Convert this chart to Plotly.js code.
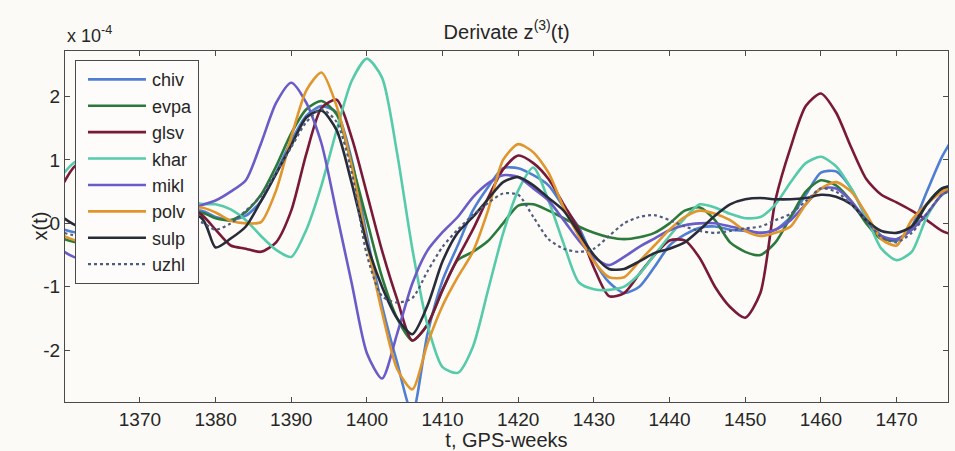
<!DOCTYPE html>
<html>
<head>
<meta charset="utf-8">
<script src="https://cdn.plot.ly/plotly-3.0.1.min.js"></script>
<style>
  html, body { margin: 0; padding: 0; background: #fcfaf6; }
  #chart { width: 955px; height: 451px; }
</style>
</head>
<body>
<div id="chart"></div>
<script>
// GPS weeks (2-week sampling); values in units of 1e-4
const weeks = [1360,1362,1364,1366,1368,1370,1372,1374,1376,1378,1380,1382,1384,1386,1388,1390,1392,1394,1396,1398,1400,1402,1404,1406,1408,1410,1412,1414,1416,1418,1420,1422,1424,1426,1428,1430,1432,1434,1436,1438,1440,1442,1444,1446,1448,1450,1452,1454,1456,1458,1460,1462,1464,1466,1468,1470,1472,1474,1476,1478];
const N = null; // hidden behind legend, not readable

const chiv = [-0.1,-0.15,N,N,N,N,N,N,N,0.2,0.1,0.05,0.12,0.35,0.8,1.3,1.7,1.85,1.75,1.0,-0.2,-1.3,-2.2,-3.0,-1.75,-0.9,-0.35,0.2,0.57,0.87,0.87,0.76,0.6,0.26,-0.06,-0.58,-0.93,-1.1,-1.0,-0.69,-0.35,-0.18,-0.07,-0.05,-0.1,-0.12,-0.15,-0.1,0.1,0.45,0.8,0.82,0.55,0.1,-0.2,-0.28,-0.05,0.5,1.05,1.45];
const evpa = [-0.25,-0.3,N,N,N,N,N,N,N,0.17,0.08,0.05,0.18,0.45,0.9,1.42,1.8,1.93,1.72,0.95,0.05,-0.85,-1.5,-1.85,-1.6,-1.05,-0.58,-0.45,-0.28,0.0,0.28,0.3,0.2,0.08,-0.05,-0.15,-0.22,-0.25,-0.22,-0.15,0.0,0.2,0.25,0.05,-0.3,-0.45,-0.5,-0.3,0.1,0.5,0.68,0.6,0.35,0.0,-0.25,-0.25,-0.1,0.3,0.55,0.6];
const glsv = [0.65,0.95,N,N,N,N,N,N,N,0.15,-0.1,-0.35,-0.4,-0.45,-0.3,0.2,1.1,1.82,1.95,1.35,0.47,-0.43,-1.2,-1.85,-1.6,-1.05,-0.55,-0.1,0.4,0.85,1.07,0.95,0.7,0.3,-0.1,-0.7,-1.15,-1.1,-0.8,-0.5,-0.27,-0.27,-0.55,-1.0,-1.32,-1.49,-1.1,0.37,1.2,1.85,2.05,1.75,1.2,0.7,0.45,0.33,0.2,0.05,-0.12,-0.2];
const khar = [0.8,1.0,N,N,N,N,N,N,N,0.31,0.3,0.22,0.05,-0.2,-0.42,-0.53,-0.1,0.6,1.47,2.25,2.6,2.3,1.1,-0.4,-1.6,-2.27,-2.36,-1.95,-1.06,-0.16,0.52,0.88,0.36,-0.32,-0.93,-1.04,-1.05,-1.0,-0.8,-0.5,-0.2,0.08,0.3,0.25,0.15,0.08,0.1,0.3,0.65,0.95,1.05,0.9,0.55,0.1,-0.4,-0.58,-0.45,0.1,0.45,0.55];
const mikl = [-0.45,-0.55,N,N,N,N,N,N,N,0.28,0.36,0.5,0.68,1.26,1.9,2.22,1.9,1.26,0.16,-0.95,-2.05,-2.45,-1.74,-0.95,-0.43,-0.14,0.1,0.41,0.63,0.76,0.73,0.55,0.36,0.05,-0.27,-0.53,-0.66,-0.53,-0.37,-0.24,-0.11,-0.03,0.0,0.0,-0.05,-0.1,-0.15,-0.1,0.05,0.3,0.55,0.55,0.35,0.05,-0.2,-0.25,-0.1,0.15,0.45,0.6];
const polv = [-0.2,-0.28,N,N,N,N,N,N,N,0.25,0.17,0.04,0.0,0.02,0.52,1.36,2.1,2.38,1.85,0.9,-0.3,-1.4,-2.3,-2.62,-1.9,-1.3,-0.85,-0.45,0.2,1.0,1.25,1.12,0.8,0.25,-0.2,-0.6,-0.85,-0.85,-0.6,-0.35,-0.1,0.1,0.2,0.15,0.05,-0.12,-0.2,-0.15,-0.05,0.3,0.55,0.65,0.5,0.15,-0.25,-0.35,0.05,0.3,0.5,0.6];
const sulp = [0.08,-0.05,N,N,N,N,N,N,N,0.1,-0.38,-0.24,-0.05,0.35,0.78,1.23,1.67,1.78,1.47,0.63,-0.32,-1.0,-1.5,-1.75,-1.3,-0.6,-0.15,0.1,0.38,0.65,0.73,0.6,0.4,0.2,-0.15,-0.5,-0.72,-0.72,-0.6,-0.47,-0.4,-0.3,-0.1,0.12,0.3,0.38,0.4,0.38,0.38,0.4,0.45,0.42,0.3,0.05,-0.12,-0.15,-0.05,0.3,0.55,0.6];
const uzhl = [-0.15,-0.2,N,N,N,N,N,N,N,0.02,-0.1,0.0,0.2,0.43,0.8,1.2,1.6,1.8,1.6,0.8,-0.5,-1.15,-1.25,-1.18,-0.76,-0.37,-0.1,0.13,0.32,0.47,0.45,0.1,-0.25,-0.4,-0.45,-0.4,-0.2,0.0,0.1,0.13,0.05,-0.05,-0.12,-0.15,-0.12,-0.08,-0.05,0.05,0.15,0.35,0.55,0.5,0.3,0.05,-0.22,-0.3,-0.15,0.15,0.45,0.55];

const seriesNames = ['chiv','evpa','glsv','khar','mikl','polv','sulp','uzhl'];
const seriesData = [chiv, evpa, glsv, khar, mikl, polv, sulp, uzhl];
const seriesColors = ['#4f7fd2','#2b7a3c','#7a1838','#55cba9','#6a5cc8','#e0962c','#272c38','#4e5c7c'];
const xTicks = [1370,1380,1390,1400,1410,1420,1430,1440,1450,1460,1470];
const yTicks = [-2,-1,0,1,2];
const yTickText = ['-2','-1','0','1','2'];

const traces = seriesNames.map((name, i) => ({
  type: 'scatter',
  mode: 'lines',
  name: name,
  x: weeks,
  y: seriesData[i],
  connectgaps: true,
  line: {
    color: seriesColors[i],
    width: name === 'uzhl' ? 2.2 : 2.6,
    dash: name === 'uzhl' ? 'dot' : 'solid',
    shape: 'spline',
    smoothing: 0.7
  }
}));

const FONT = 'Liberation Sans, Arial, sans-serif';
const axisCommon = {
  showline: true, linecolor: '#4a4a4a', linewidth: 1,
  mirror: 'ticks', ticks: 'inside', ticklen: 5, tickcolor: '#4a4a4a',
  showgrid: false, zeroline: false,
  tickfont: { family: FONT, size: 19, color: '#262626' }
};

const layout = {
  width: 955, height: 451,
  paper_bgcolor: '#fcfaf6', plot_bgcolor: '#fdfbf8',
  margin: { l: 65, r: 7, t: 51, b: 49 },
  font: { family: FONT, color: '#262626' },
  title: {
    text: 'Derivate z<sup>(3)</sup>(t)',
    font: { size: 20, color: '#262626' },
    x: 0.5305, xanchor: 'center', yref: 'container', y: 0.93, yanchor: 'middle'
  },
  xaxis: Object.assign({}, axisCommon, {
    range: [1360.1, 1476.8], tickvals: xTicks,
    title: { text: 't, GPS-weeks', font: { size: 20, color: '#262626' }, standoff: 2 }
  }),
  yaxis: Object.assign({}, axisCommon, {
    range: [-2.82, 2.72], tickvals: yTicks, ticktext: yTickText
  }),
  showlegend: true,
  legend: {
    x: 0.0113, y: 0.974, xanchor: 'left', yanchor: 'top',
    bgcolor: '#fdfcfa', bordercolor: '#4a4a4a', borderwidth: 1,
    font: { size: 18, color: '#262626' },
    itemwidth: 66, tracegroupgap: 0
  },
  annotations: [
    {
      xref: 'paper', yref: 'paper', x: 0, y: 1, xanchor: 'left', yanchor: 'bottom',
      yshift: 3, showarrow: false,
      text: 'x 10<sup>-4</sup>', font: { size: 18, color: '#262626' }
    },
    {
      xref: 'paper', yref: 'paper', x: 0, y: 0.5, xanchor: 'center', yanchor: 'middle',
      xshift: -26, showarrow: false, textangle: -90,
      text: 'x(t)', font: { size: 20, color: '#262626' }
    }
  ]
};

Plotly.newPlot('chart', traces, layout, { displayModeBar: false, staticPlot: true }).then(() => {
  // lengthen the legend line samples to match the reference
  document.querySelectorAll('.legend .legendlines path').forEach(p => p.setAttribute('d', 'M12,0h58'));
});
</script>
</body>
</html>
